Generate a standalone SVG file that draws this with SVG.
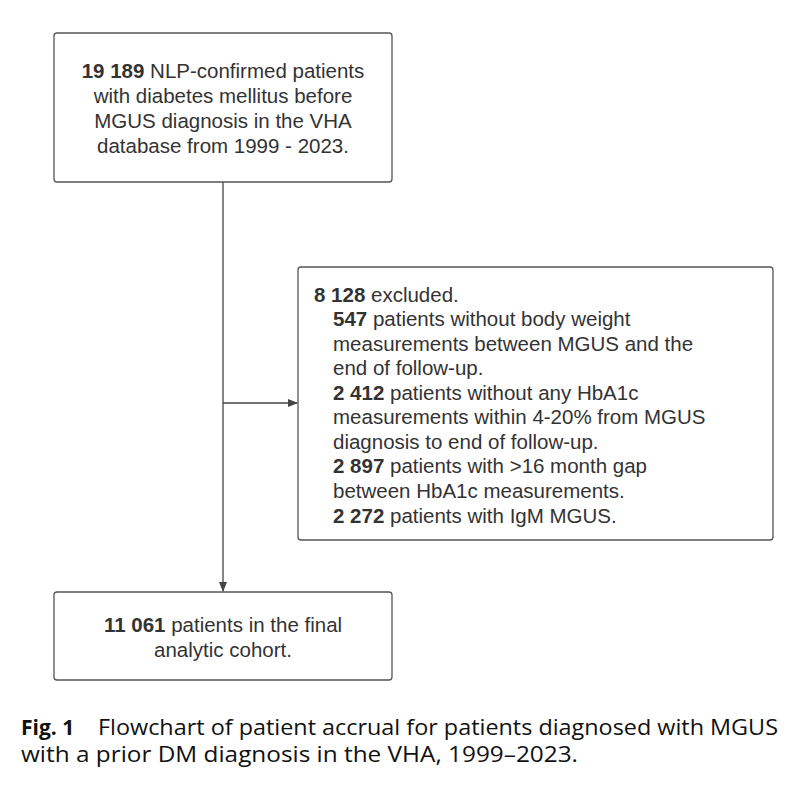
<svg xmlns="http://www.w3.org/2000/svg" width="800" height="787" viewBox="0 0 800 787">
<style>
.box{fill:#fff;stroke:#555;stroke-width:1.3}
.t{font-family:"Liberation Sans",Arial,sans-serif;font-size:20.5px;fill:#333}
.c{font-family:"Open Sans",sans-serif;font-size:21px;fill:#111}
.ln{stroke:#444;stroke-width:1.3;fill:none}
</style>
<defs><marker id="a" markerWidth="10" markerHeight="10" refX="9" refY="5" orient="auto" markerUnits="userSpaceOnUse"><path d="M0,1 L10,5 L0,9 z" fill="#444"/></marker></defs>
<rect width="800" height="787" fill="#fff"/>
<g id="connectors">
<path class="ln" d="M223,182 V591" marker-end="url(#a)"/>
<path class="ln" d="M223,403 H297" marker-end="url(#a)"/>
</g>
<g id="top"><rect class="box" x="54" y="33" width="338" height="149" rx="3"/>
<text class="t" text-anchor="middle"><tspan x="223" y="78"><tspan font-weight="bold">19 189</tspan> NLP-confirmed patients</tspan><tspan x="223" y="103">with diabetes mellitus before</tspan><tspan x="223" y="128">MGUS diagnosis in the VHA</tspan><tspan x="223" y="153">database from 1999 - 2023.</tspan></text></g>
<g id="excluded"><rect class="box" x="298" y="267" width="475" height="273" rx="3"/>
<text class="t"><tspan x="314" y="302"><tspan font-weight="bold">8 128</tspan> excluded.</tspan>
<tspan x="333" y="326"><tspan font-weight="bold">547</tspan> patients without body weight</tspan>
<tspan x="333" y="351">measurements between MGUS and the</tspan>
<tspan x="333" y="375">end of  follow-up.</tspan>
<tspan x="333" y="400"><tspan font-weight="bold">2 412</tspan> patients without any HbA1c</tspan>
<tspan x="333" y="424">measurements within 4-20% from MGUS</tspan>
<tspan x="333" y="449">diagnosis to end of follow-up.</tspan>
<tspan x="333" y="473"><tspan font-weight="bold">2 897</tspan> patients with &gt;16 month gap</tspan>
<tspan x="333" y="498">between HbA1c measurements.</tspan>
<tspan x="333" y="523"><tspan font-weight="bold">2 272</tspan> patients with IgM MGUS.</tspan></text></g>
<g id="final"><rect class="box" x="54" y="592" width="338" height="88" rx="3"/>
<text class="t" text-anchor="middle"><tspan x="223" y="632"><tspan font-weight="bold">11 061</tspan> patients in the final</tspan><tspan x="223" y="657">analytic cohort.</tspan></text></g>
<g id="caption" class="c">
<text x="21" y="735" font-weight="bold">Fig. 1</text>
<text x="98" y="735" textLength="680" lengthAdjust="spacingAndGlyphs">Flowchart of patient accrual for patients diagnosed with MGUS</text>
<text x="21" y="762" textLength="557" lengthAdjust="spacingAndGlyphs">with a prior DM diagnosis in the VHA, 1999–2023.</text>
</g>
</svg>
